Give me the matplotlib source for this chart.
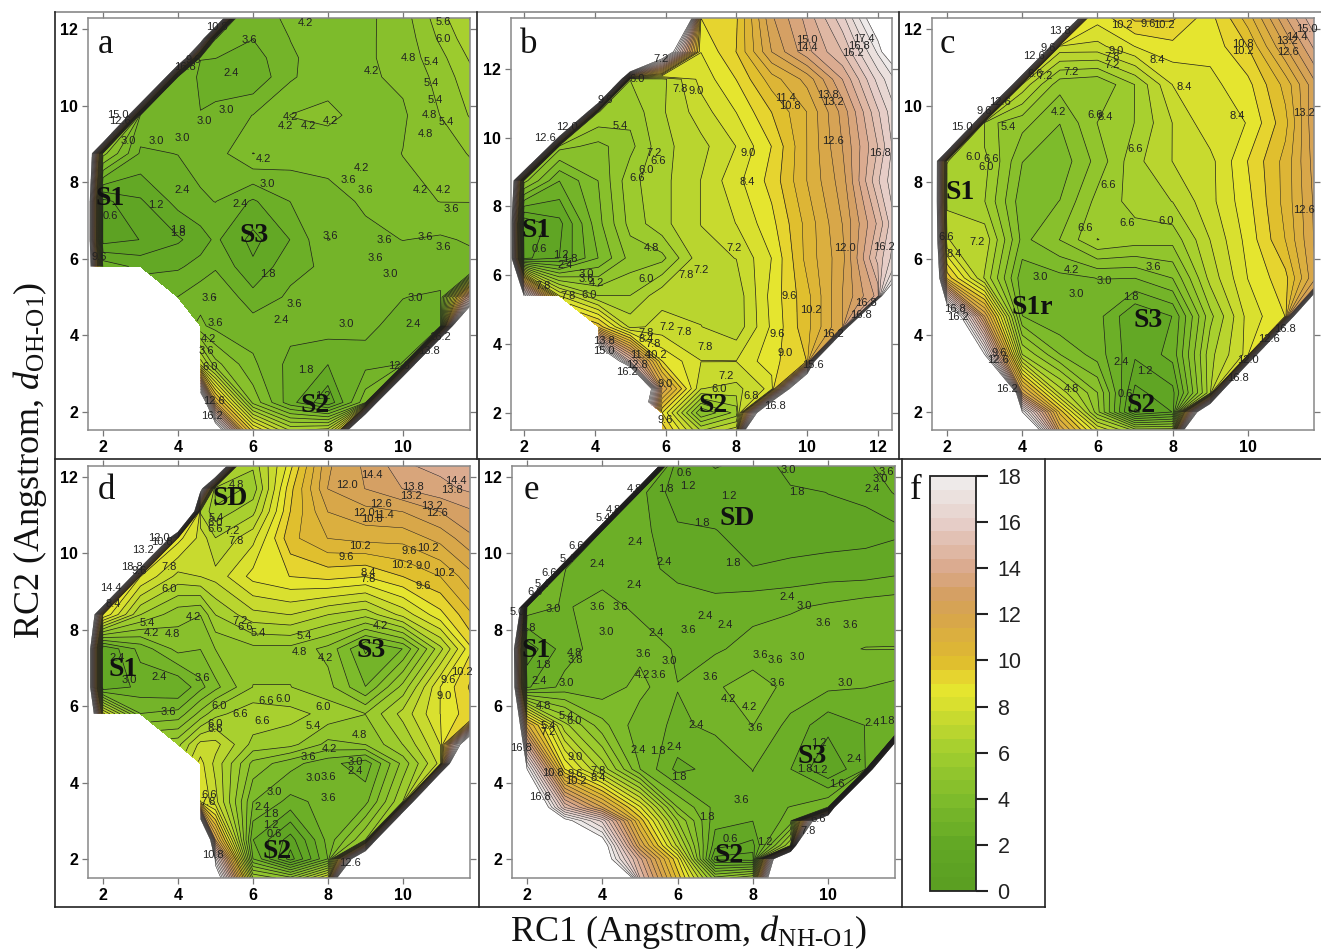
import numpy as np
import matplotlib
matplotlib.use('Agg')
import matplotlib.pyplot as plt
from matplotlib.colors import LinearSegmentedColormap
from matplotlib.lines import Line2D

plt.rcParams['font.family'] = 'Liberation Sans'
plt.rcParams['mathtext.fontset'] = 'custom'
plt.rcParams['mathtext.rm'] = 'Liberation Serif'
plt.rcParams['mathtext.it'] = 'Liberation Serif:italic'

N = np.nan
H = 50
W = 50
E = 90

# free energy, rows go from the top of the panel down
a_x = [1, 2, 3, 4, 4.6, 5, 6, 7, 8, 9, 10, 11, 12]
a_y = [12.75, 11.75, 11.25, 10.75, 9.75, 8.75, 7.5, 6.5, 5.8, 5, 4.25, 3.25, 2.25, 1.25]
a_z = [
    [H, H, H, H, H, H, 3.3, 3.9, 4.2, 4.0, 4.6, 6.0, 7.0],
    [H, H, H, H, 22, 3.6, 3.0, 3.6, 3.9, 4.1, 4.4, 5.5, 6.6],
    [H, H, H, 27, 3.0, 3.0, 2.7, 3.5, 3.9, 4.1, 4.4, 5.2, 6.3],
    [H, H, H, 3.4, 2.9, 2.6, 2.5, 3.5, 4.0, 4.1, 4.3, 5.0, 6.0],
    [H, H, 3.4, 3.1, 3.0, 3.2, 3.6, 4.2, 4.3, 4.0, 4.1, 4.8, 5.6],
    [H, 5.0, 2.9, 3.0, 3.2, 3.3, 4.2, 3.9, 3.9, 3.9, 4.2, 4.3, 5.0],
    [W, 1.0, 1.7, 2.6, 2.9, 3.0, 2.3, 3.0, 3.3, 3.7, 4.0, 4.2, 4.2],
    [W, 0.9, 1.2, 1.7, 2.1, 2.5, 1.6, 2.4, 3.6, 3.4, 3.6, 3.5, 3.7],
    [W, 2.8, 2.2, 2.3, 2.6, 2.9, 1.9, 2.8, 3.1, 3.4, 3.2, 3.3, 3.4],
    [N, N, N, 3.0, 3.4, 3.6, 2.6, 3.1, 3.3, 3.2, 3.0, 2.9, 18],
    [N, N, N, N, 3.7, 3.4, 3.3, 3.2, 3.3, 3.1, 2.8, 2.7, H],
    [N, N, N, N, 7.0, 5.0, 3.7, 2.8, 2.4, 2.8, 3.0, H, H],
    [N, N, N, N, 22, 11, 4.6, 2.6, 1.3, 4.0, H, H, H],
    [N, N, N, N, H, 24, 11, 8.0, 9.0, H, H, H, H],
]
a_names = [(2.18, 7.57, 'S1'), (6.02, 6.6, 'S3'), (7.65, 2.16, 'S2')]
a_labels = [
    (5.91, 11.72, '3.6'), (7.4, 12.16, '4.2'), (11.07, 12.18, '5.6'), (11.07, 11.75, '6.0'),
    (10.15, 11.25, '4.8'), (10.76, 11.14, '5.4'), (10.76, 10.6, '5.4'), (10.87, 10.15, '5.4'),
    (9.15, 10.9, '4.2'), (5.42, 10.85, '2.4'), (5.3, 9.9, '3.0'), (4.7, 9.6, '3.0'),
    (3.42, 9.07, '3.0'), (4.12, 9.16, '3.0'), (2.67, 9.07, '3.0'), (7.0, 9.7, '4.2'),
    (6.86, 9.48, '4.2'), (7.47, 9.46, '4.2'), (8.07, 9.6, '4.2'), (10.7, 9.75, '4.8'),
    (11.15, 9.57, '5.4'), (10.6, 9.25, '4.8'), (6.27, 8.6, '4.2'), (8.9, 8.38, '4.2'),
    (8.55, 8.05, '3.6'), (9.0, 7.8, '3.6'), (6.38, 7.96, '3.0'), (4.1, 7.8, '2.4'),
    (10.47, 7.8, '4.2'), (11.07, 7.8, '4.2'), (11.3, 7.3, '3.6'), (3.4, 7.4, '1.2'),
    (5.66, 7.42, '2.4'), (2.2, 7.13, '0.6'), (4.0, 6.76, '1.8'), (4.0, 6.68, '1.8'),
    (8.07, 6.6, '3.6'), (9.5, 6.5, '3.6'), (10.6, 6.58, '3.6'), (11.07, 6.3, '3.6'),
    (9.26, 6.03, '3.6'), (9.66, 5.6, '3.0'), (6.4, 5.6, '1.8'), (4.84, 4.97, '3.6'),
    (10.34, 4.97, '3.0'), (7.1, 4.83, '3.6'), (6.76, 4.4, '2.4'), (8.5, 4.3, '3.0'),
    (10.27, 4.3, '2.4'), (5.0, 4.32, '3.6'), (4.8, 3.9, '4.2'), (4.75, 3.6, '3.6'),
    (4.85, 3.17, '6.0'), (7.42, 3.1, '1.8'), (7.87, 2.43, '1.2'), (2.4, 9.75, '15.0'),
    (2.45, 9.6, '12.6'), (4.2, 11.0, '16.8'), (4.4, 11.2, '9.6'), (5.05, 12.05, '10.8'),
    (1.9, 6.05, '9.6'), (10.7, 3.6, '13.8'), (11.0, 3.95, '16.2'), (9.9, 3.2, '12.6'),
    (4.95, 2.3, '12.6'), (4.9, 1.9, '16.2'),
]

b_x = [1, 2, 3, 4.1, 5, 5.9, 7, 8, 9, 10, 11, 12, 13]
b_y = [13.5, 12.5, 11.7, 10.75, 9.75, 8.75, 7.5, 6.5, 5.4, 4.5, 3.5, 2.7, 2, 1.5]
b_z = [
    [H, H, H, H, H, H, 9.0, 9.5, 12.5, 14, 16, 19, 24],
    [H, H, H, H, H, 22, 8.4, 9.6, 12, 13.6, 15, 17.5, 22],
    [H, H, H, H, 6.0, 6.4, 8.0, 9.0, 10.5, 11.6, 13.8, 16.4, 18.5],
    [H, H, H, 6.0, 5.6, 6.5, 7.5, 8.4, 9.6, 10.8, 12.8, 15.5, 18],
    [H, H, 5.0, 4.6, 5.2, 6.4, 7.0, 7.8, 9.0, 10.8, 12.6, 15, 18],
    [H, 5.0, 3.0, 4.2, 5.8, 6.4, 7.2, 8.2, 9.2, 10.8, 12.3, 15.5, 18],
    [W, 0.6, 1.6, 4.0, 5.6, 6.4, 7.2, 7.8, 8.8, 10.4, 12.0, 14.5, 18],
    [W, 1.0, 1.8, 3.6, 5.0, 5.2, 7.0, 7.2, 8.4, 10.4, 11.8, 15.2, 18],
    [W, 18, 7.8, 6.0, 6.0, 7.0, 7.0, 6.8, 8.6, 10.0, 12, 14, H],
    [N, N, N, 10, 7.0, 7.4, 7.2, 6.8, 8.5, 10.0, 12, H, H],
    [N, N, N, 24, 15, 9.0, 7.8, 7.8, 8.8, 9.6, H, H, H],
    [N, N, N, 30, 30, 12, 7.2, 7.0, 8.0, 28, H, H, H],
    [N, N, N, N, N, 9.0, 4.2, 5.6, 27, H, H, H, H],
    [N, N, N, N, N, 10, 6.5, 7.5, H, H, H, H, H],
]
b_names = [(2.33, 7.3, 'S1'), (7.34, 2.22, 'S2')]
b_labels = [
    (10.0, 12.83, '15.0'), (10.0, 12.6, '14.4'), (11.6, 12.87, '17.4'), (11.48, 12.68, '16.8'),
    (11.3, 12.47, '16.2'), (5.88, 12.3, '7.2'), (5.2, 11.7, '6.0'), (6.4, 11.43, '7.8'),
    (6.87, 11.37, '9.0'), (9.4, 11.16, '11.4'), (9.52, 10.93, '10.8'), (10.6, 11.25, '13.8'),
    (10.73, 11.03, '13.2'), (4.28, 11.1, '9.6'), (4.72, 10.33, '5.4'), (10.73, 9.9, '12.6'),
    (5.67, 9.56, '7.2'), (5.8, 9.33, '6.6'), (8.33, 9.56, '9.0'), (12.05, 9.56, '16.8'),
    (5.44, 9.05, '6.0'), (5.2, 8.83, '6.6'), (8.3, 8.7, '8.4'), (2.42, 6.75, '0.6'),
    (5.6, 6.8, '4.8'), (7.93, 6.78, '7.2'), (11.08, 6.8, '12.0'), (12.17, 6.83, '16.2'),
    (3.04, 6.6, '1.2'), (3.29, 6.48, '1.8'), (3.15, 6.3, '2.4'), (7.0, 6.15, '7.2'),
    (3.76, 6.04, '3.0'), (6.58, 6.0, '7.8'), (3.76, 5.88, '3.6'), (5.44, 5.9, '6.0'),
    (4.04, 5.76, '4.2'), (2.54, 5.7, '7.8'), (3.85, 5.44, '6.0'), (3.24, 5.4, '7.8'),
    (9.5, 5.4, '9.6'), (10.1, 5.0, '10.2'), (11.67, 5.2, '16.8'), (11.53, 4.83, '16.8'),
    (6.04, 4.5, '7.2'), (6.52, 4.35, '7.8'), (5.44, 4.33, '7.8'), (5.44, 4.15, '8.4'),
    (9.15, 4.28, '9.6'), (10.73, 4.28, '16.2'), (4.25, 4.08, '13.8'), (5.65, 4.0, '7.8'),
    (7.12, 3.9, '7.8'), (4.25, 3.8, '15.0'), (5.74, 3.68, '10.2'), (5.3, 3.68, '11.4'),
    (9.39, 3.74, '9.0'), (5.2, 3.4, '12.8'), (4.9, 3.2, '16.2'), (10.16, 3.38, '15.6'),
    (7.72, 3.07, '7.2'), (6.0, 2.85, '9.0'), (7.5, 2.7, '6.0'), (8.42, 2.48, '6.8'),
    (6.0, 1.8, '9.6'), (9.08, 2.2, '16.8'), (2.6, 10.0, '12.6'), (3.2, 10.3, '12.0'),
]

c_x = [1, 2, 3, 4, 5, 6, 7, 8, 9, 10, 11, 12]
c_y = [12.55, 11.55, 10.55, 9.55, 8.55, 7.5, 6.5, 5.5, 4.5, 3.5, 2.5, 2, 1.5]
c_z = [
    [H, H, H, H, H, 9.0, 10.2, 10.0, 8.9, 10.8, 13.5, 15.8],
    [H, H, H, H, 7.6, 7.6, 8.4, 8.8, 8.6, 9.6, 12.0, 14.5],
    [H, H, H, 7.0, 5.0, 4.8, 6.0, 7.8, 8.2, 8.8, 10.4, 13.0],
    [H, H, 5.6, 5.0, 4.2, 5.4, 6.0, 7.2, 8.2, 8.4, 10.0, 13.2],
    [H, 6.6, 6.2, 4.2, 3.8, 5.0, 6.4, 7.2, 7.6, 9.0, 10.4, 12.8],
    [W, 6.4, 6.0, 3.8, 4.2, 5.6, 6.2, 6.6, 7.6, 8.8, 10.4, 12.6],
    [W, 7.2, 7.0, 4.0, 4.8, 6.0, 5.7, 5.6, 7.2, 8.6, 10.2, 12.6],
    [H, 10, 6.5, 3.2, 3.4, 3.6, 3.6, 4.2, 6.8, 8.4, 9.4, 12.6],
    [H, 21.5, 12, 3.6, 3.0, 3.2, 1.8, 2.4, 5.8, 8.0, 9.0, H],
    [H, H, 18, 6.0, 4.2, 3.3, 1.9, 2.6, 6.4, 8.0, H, H],
    [H, H, H, 12, 7.0, 4.8, 1.0, 1.6, 6.4, H, H, H],
    [H, H, H, 18, 10, 5.0, 0.5, 1.2, 27, H, H, H],
    [H, H, H, 24, 12, 8.0, 6.0, 6.0, H, H, H, H],
]
c_names = [(2.36, 7.72, 'S1'), (4.26, 4.72, 'S1r'), (7.36, 4.39, 'S3'), (7.15, 2.16, 'S2')]
c_labels = [
    (6.5, 11.44, '9.0'), (9.87, 11.6, '10.8'), (9.87, 11.42, '10.2'), (6.4, 11.27, '7.8'),
    (7.59, 11.2, '8.4'), (6.4, 11.07, '7.2'), (4.35, 10.83, '6.6'), (4.6, 10.77, '7.2'),
    (5.3, 10.88, '7.2'), (8.3, 10.5, '8.4'), (6.64, 12.1, '10.2'), (7.36, 12.14, '9.6'),
    (7.76, 12.1, '10.2'), (11.04, 11.7, '13.2'), (11.08, 11.4, '12.6'), (11.57, 12.0, '15.0'),
    (11.3, 11.8, '14.4'), (11.5, 9.8, '13.2'), (11.5, 7.27, '12.6'), (4.97, 9.83, '4.2'),
    (5.93, 9.76, '6.6'), (6.2, 9.7, '8.4'), (9.73, 9.73, '8.4'), (3.64, 9.44, '5.4'),
    (2.4, 9.44, '15.0'), (7.0, 8.86, '6.6'), (2.68, 8.66, '6.0'), (3.17, 8.6, '6.6'),
    (3.05, 8.4, '6.0'), (6.28, 7.92, '6.6'), (6.8, 6.94, '6.6'), (7.82, 7.0, '6.0'),
    (5.66, 6.8, '6.6'), (1.98, 6.57, '6.6'), (2.8, 6.44, '7.2'), (2.2, 6.12, '8.4'),
    (5.3, 5.72, '4.2'), (7.48, 5.8, '3.6'), (4.48, 5.52, '3.0'), (6.17, 5.41, '3.0'),
    (5.44, 5.07, '3.0'), (6.88, 5.0, '1.8'), (2.2, 4.7, '16.8'), (2.3, 4.48, '16.2'),
    (11.0, 4.18, '16.8'), (6.63, 3.3, '2.4'), (7.26, 3.06, '1.2'), (5.3, 2.6, '4.8'),
    (6.74, 2.48, '0.6'), (3.6, 2.6, '16.2'), (3.4, 10.1, '12.6'), (3.0, 9.85, '9.6'),
    (4.3, 11.3, '12.6'), (4.7, 11.5, '9.6'), (5.0, 11.95, '13.8'), (3.35, 3.35, '12.6'),
    (3.4, 3.55, '9.6'), (10.55, 3.9, '12.6'), (10.0, 3.35, '12.0'), (9.75, 2.9, '16.8'),
]

d_x = [1, 2, 3, 4, 4.6, 5, 6, 7, 8, 9, 10, 11, 12]
d_y = [12.7, 11.7, 11.1, 10.4, 9.4, 8.4, 7.5, 6.5, 5.8, 5, 4.5, 3.5, 2.5, 2, 1.5]
d_z = [
    [H, H, H, H, H, H, 6.4, 8.4, 11.8, 12.8, 14.0, 14.2, 14.4],
    [H, H, H, H, 20, 4.8, 5.6, 9.4, 12.0, 12.6, 13.2, 13.6, 14],
    [H, H, H, H, 6.5, 5.6, 6.4, 9.6, 11.4, 11.8, 12.0, 12.6, 13.2],
    [H, H, H, 8.6, 7.6, 6.6, 7.6, 10.0, 10.8, 11.0, 11.0, 11.6, 12.6],
    [H, H, 8.4, 7.0, 7.2, 7.4, 8.6, 9.0, 9.2, 9.0, 9.6, 10.2, 11.4],
    [H, 9.0, 6.0, 5.0, 4.8, 6.0, 7.0, 7.2, 6.6, 6.2, 7.4, 8.8, 10.4],
    [W, 1.8, 3.2, 4.4, 4.2, 4.8, 5.2, 5.2, 4.6, 2.9, 3.6, 6.4, 9.4],
    [W, 1.8, 2.6, 2.4, 3.4, 4.0, 5.4, 5.4, 5.0, 3.6, 5.6, 8.4, 10],
    [W, 8.0, 3.6, 3.8, 5.0, 5.8, 6.4, 6.2, 5.8, 5.4, 6.8, 8.4, 9.6],
    [N, N, N, 5.8, 7.4, 7.4, 5.8, 5.6, 4.6, 4.8, 6.0, 7.8, 27],
    [N, N, N, N, 8.0, 7.0, 4.6, 3.8, 3.2, 2.6, 5.0, 7.4, H],
    [N, N, N, N, 8.4, 7.4, 3.6, 2.8, 3.2, 3.4, 6.0, H, H],
    [N, N, N, N, 30, 12, 2.4, 0.9, 3.2, 5.4, H, H, H],
    [N, N, N, N, H, 17, 3.0, 0.3, 3.0, 27, H, H, H],
    [N, N, N, N, H, 20, 6.0, 5.0, 8.0, H, H, H, H],
]
d_names = [(5.4, 11.44, 'SD'), (2.55, 6.95, 'S1'), (9.14, 7.45, 'S3'), (6.64, 2.19, 'S2')]
d_labels = [
    (5.56, 11.8, '4.8'), (8.5, 11.8, '12.0'), (9.18, 12.05, '14.4'), (10.27, 11.75, '13.8'),
    (10.22, 11.5, '13.2'), (11.4, 11.9, '14.4'), (11.3, 11.66, '13.8'), (9.42, 11.3, '12.6'),
    (10.77, 11.25, '13.2'), (10.9, 11.05, '12.6'), (8.96, 11.07, '12.0'), (9.47, 11.0, '11.4'),
    (9.18, 10.9, '10.8'), (5.02, 10.92, '5.4'), (5.0, 10.8, '6.0'), (5.0, 10.64, '6.6'),
    (5.45, 10.6, '7.2'), (5.54, 10.33, '7.8'), (3.5, 10.4, '12.0'), (3.56, 10.3, '10.8'),
    (8.84, 10.2, '10.2'), (10.18, 10.06, '9.6'), (10.67, 10.13, '10.2'), (8.5, 9.9, '9.6'),
    (3.07, 10.1, '13.2'), (2.76, 9.65, '18.8'), (2.96, 9.55, '9.6'), (3.75, 9.65, '7.8'),
    (9.98, 9.7, '10.2'), (10.55, 9.67, '9.0'), (11.1, 9.5, '10.2'), (9.07, 9.48, '8.4'),
    (9.07, 9.32, '7.8'), (2.2, 9.1, '14.4'), (10.53, 9.15, '9.6'), (3.75, 9.08, '6.0'),
    (2.27, 8.67, '8.4'), (4.42, 8.33, '4.2'), (3.17, 8.17, '5.4'), (5.66, 8.23, '7.2'),
    (5.78, 8.08, '6.6'), (9.4, 8.1, '4.2'), (3.29, 7.92, '4.2'), (3.85, 7.9, '4.8'),
    (6.13, 7.92, '5.4'), (7.38, 7.85, '5.4'), (7.24, 7.43, '4.8'), (7.94, 7.25, '4.2'),
    (2.38, 7.25, '2.4'), (2.71, 6.68, '3.0'), (3.5, 6.76, '2.4'), (4.65, 6.75, '3.6'),
    (11.2, 6.68, '9.6'), (11.57, 6.9, '10.2'), (11.1, 6.27, '9.0'), (6.36, 6.14, '6.6'),
    (6.8, 6.19, '6.0'), (5.1, 6.0, '6.0'), (7.87, 5.99, '6.0'), (5.67, 5.79, '6.6'),
    (3.75, 5.86, '3.6'), (6.24, 5.62, '6.6'), (7.6, 5.49, '5.4'), (5.0, 5.53, '6.0'),
    (5.0, 5.4, '6.6'), (8.84, 5.25, '4.8'), (8.04, 4.87, '4.2'), (7.48, 4.66, '3.6'),
    (8.73, 4.55, '3.0'), (8.73, 4.29, '2.4'), (7.6, 4.11, '3.0'), (8.0, 4.15, '3.6'),
    (6.58, 3.75, '3.0'), (8.02, 3.6, '3.6'), (4.84, 3.68, '6.6'), (4.8, 3.5, '7.8'),
    (6.24, 3.37, '2.4'), (6.47, 3.17, '1.8'), (6.47, 2.9, '1.2'), (6.58, 2.65, '0.6'),
    (4.93, 2.1, '10.8'), (8.58, 1.89, '12.6'),
]

e_x = [1, 2, 3, 4, 5, 6, 7, 8, 9, 10, 11, 12]
e_y = [12.6, 11.6, 10.6, 9.6, 8.6, 7.5, 6.5, 5.5, 4.35, 3.35, 3, 2.35, 2, 1.5]
e_z = [
    [E, E, E, E, E, 1.4, 1.0, 1.2, 2.6, 2.2, 2.4, 3.6],
    [E, E, E, E, 2.6, 1.4, 1.5, 1.2, 1.6, 1.8, 1.9, 2.6],
    [E, E, E, 2.8, 2.6, 1.9, 1.8, 1.6, 1.5, 1.5, 1.6, 1.7],
    [E, E, 3.0, 2.6, 2.6, 2.2, 2.0, 1.8, 1.9, 2.0, 2.0, 2.2],
    [E, 3.4, 2.9, 3.3, 2.8, 2.7, 2.6, 2.8, 2.9, 3.1, 3.3, 3.4],
    [W, 1.4, 2.7, 3.3, 3.4, 2.9, 2.9, 3.2, 3.4, 3.5, 3.6, 3.6],
    [W, 2.3, 3.2, 3.2, 3.8, 3.0, 3.5, 3.9, 3.4, 3.1, 3.0, 2.8],
    [W, 11, 6.2, 4.4, 3.2, 2.9, 3.1, 3.6, 2.8, 2.0, 2.4, 2.8],
    [W, 18, 9.0, 6.4, 3.6, 2.2, 2.6, 3.0, 2.4, 1.2, 2.4, E],
    [H, 22, 15, 12, 8.5, 4.2, 2.8, 2.8, 3.0, 3.6, E, E],
    [H, H, 18.5, 16, 10, 5.4, 2.6, 2.4, 3.2, 28, E, E],
    [H, H, H, 19, 12, 7.0, 2.0, 1.6, 6.0, E, E, E],
    [H, H, H, 19.3, 14, 9.0, 1.0, 0.8, 32, E, E, E],
    [H, H, H, 30, 15, 10, 5.0, 6.0, 36, E, E, E],
]
e_names = [(7.58, 10.92, 'SD'), (2.23, 7.47, 'S1'), (9.58, 4.68, 'S3'), (7.37, 2.08, 'S2')]
e_labels = [
    (6.17, 12.1, '0.6'), (8.94, 12.18, '3.0'), (11.56, 12.14, '3.6'), (11.38, 11.95, '3.0'),
    (5.69, 11.69, '1.8'), (6.28, 11.77, '1.2'), (11.16, 11.7, '2.4'), (7.36, 11.5, '1.2'),
    (9.16, 11.6, '1.8'), (4.86, 11.7, '4.8'), (4.29, 11.14, '4.8'), (4.02, 10.94, '5.4'),
    (6.64, 10.79, '1.8'), (4.88, 10.29, '2.4'), (3.3, 10.2, '6.6'), (3.07, 9.85, '5.4'),
    (3.87, 9.72, '2.4'), (5.64, 9.78, '2.4'), (7.48, 9.74, '1.8'), (2.6, 9.48, '6.6'),
    (2.41, 9.2, '5.4'), (2.22, 9.0, '6.0'), (4.84, 9.17, '2.4'), (8.91, 8.87, '2.4'),
    (9.38, 8.63, '3.0'), (2.69, 8.54, '3.0'), (3.87, 8.59, '3.6'), (4.48, 8.59, '3.6'),
    (1.73, 8.47, '5.0'), (6.73, 8.36, '2.4'), (7.26, 8.13, '2.4'), (9.87, 8.17, '3.6'),
    (10.6, 8.13, '3.6'), (6.28, 8.0, '3.6'), (2.03, 8.04, '1.8'), (4.11, 7.95, '3.0'),
    (5.44, 7.92, '2.4'), (3.27, 7.38, '4.8'), (5.09, 7.36, '3.6'), (8.2, 7.34, '3.6'),
    (8.59, 7.2, '3.6'), (9.19, 7.3, '3.0'), (3.27, 7.2, '3.8'), (5.79, 7.19, '3.0'),
    (2.43, 7.08, '1.8'), (5.48, 6.82, '3.6'), (5.07, 6.82, '4.2'), (6.88, 6.77, '3.6'),
    (2.32, 6.67, '2.4'), (3.05, 6.62, '3.0'), (8.66, 6.6, '3.6'), (10.45, 6.62, '3.0'),
    (7.35, 6.18, '4.2'), (2.44, 6.01, '4.8'), (7.9, 5.99, '4.2'), (3.05, 5.74, '5.4'),
    (3.25, 5.61, '6.0'), (6.5, 5.51, '2.4'), (8.07, 5.42, '3.6'), (11.16, 5.55, '2.4'),
    (11.56, 5.6, '1.8'), (2.56, 5.49, '5.4'), (2.56, 5.33, '7.2'), (1.83, 4.9, '16.8'),
    (9.76, 5.03, '1.2'), (4.95, 4.85, '2.4'), (5.91, 4.92, '2.4'), (5.47, 4.83, '1.8'),
    (3.27, 4.68, '9.0'), (10.7, 4.62, '2.4'), (9.38, 4.36, '1.8'), (9.78, 4.33, '1.2'),
    (2.69, 4.24, '10.8'), (3.27, 4.22, '9.6'), (3.89, 4.29, '7.8'), (3.89, 4.13, '8.4'),
    (3.29, 4.05, '10.2'), (6.04, 4.15, '1.8'), (10.23, 3.95, '1.6'), (2.34, 3.63, '16.8'),
    (7.7, 3.54, '3.6'), (9.74, 3.04, '6.6'), (6.77, 3.11, '1.8'), (9.47, 2.72, '7.8'),
    (7.39, 2.52, '0.6'), (8.32, 2.43, '1.2'),
]

cbar_ticks = [0, 2, 4, 6, 8, 10, 12, 14, 16, 18]
levels = np.arange(0, 18.01, 0.6)
line_widths = [0.5 if lev < 10 else 0.35 for lev in levels]
cmap = LinearSegmentedColormap.from_list('fe', [
    (0 / 18, '#5a9e22'), (2 / 18, '#62a825'), (4 / 18, '#7fbc2b'), (6 / 18, '#a1cd2f'),
    (8 / 18, '#d6df2f'), (8.8 / 18, '#e7e62f'), (9.4 / 18, '#e6d12f'), (10 / 18, '#dfbb2e'),
    (12 / 18, '#d7a44e'), (13 / 18, '#d5a066'), (14 / 18, '#daa98c'), (16 / 18, '#e6cec8'),
    (18 / 18, '#efefef'),
])

W_PX, H_PX = 1321, 952
fig = plt.figure(figsize=(W_PX / 100, H_PX / 100), dpi=100)


def box(left, top, right, bottom):
    return [left / W_PX, 1 - bottom / H_PX, (right - left) / W_PX, (bottom - top) / H_PX]


def panel(pos, xlim, ylim, xs, ys, zs, names, labels, letter, lx, ly, xticks, yticks):
    ax = fig.add_axes(box(*pos))
    # small nudge so nodes sitting exactly on a level don't draw flat lines
    z = np.array(zs, dtype=float) + 0.013
    cf = ax.contourf(xs, ys, z, levels=levels, cmap=cmap)
    ax.contour(xs, ys, z, levels=levels, colors='#1c1c1c', linewidths=line_widths)
    for x, y, s in labels:
        ax.text(x, y, s, fontsize=8, color='#222222', ha='center', va='center')
    for x, y, s in names:
        ax.text(x, y, s, fontsize=20, family='Liberation Serif', weight='bold',
                color='#111111', ha='center', va='center')
    ax.text(lx, ly, letter, transform=ax.transAxes, fontsize=25, family='Liberation Serif', color='#111111')
    ax.set_xlim(xlim)
    ax.set_ylim(ylim)
    ax.set_xticks(xticks)
    ax.set_yticks(yticks)
    ax.tick_params(top=True, right=True, length=4, width=0.9, color='#777777', pad=3, labelsize=11.5)
    for t in ax.get_xticklabels() + ax.get_yticklabels():
        t.set_fontweight('bold')
    for s in ax.spines.values():
        s.set_color('#888888')
        s.set_linewidth(1.1)
    return cf


ticks10 = [2, 4, 6, 8, 10]
ticks12 = [2, 4, 6, 8, 10, 12]
cf = panel((88, 18, 470, 430), (1.6, 11.79), (1.53, 12.29), a_x, a_y, a_z, a_names, a_labels,
           'a', 0.026, 0.915, ticks10, ticks12)
panel((511, 18, 892, 430), (1.63, 12.4), (1.5, 13.48), b_x, b_y, b_z, b_names, b_labels,
      'b', 0.024, 0.915, ticks12, ticks12)
panel((932, 18, 1314, 430), (1.6, 11.76), (1.53, 12.29), c_x, c_y, c_z, c_names, c_labels,
      'c', 0.02, 0.915, ticks10, ticks12)
panel((88, 466, 470, 878), (1.6, 11.79), (1.5, 12.29), d_x, d_y, d_z, d_names, d_labels,
      'd', 0.026, 0.92, ticks10, ticks12)
panel((512, 466, 895, 878), (1.6, 11.78), (1.5, 12.29), e_x, e_y, e_z, e_names, e_labels,
      'e', 0.03, 0.92, ticks10, ticks12)

cax = fig.add_axes(box(930, 476, 976, 891))
cb = fig.colorbar(cf, cax=cax, ticks=cbar_ticks)
cb.outline.set_edgecolor('#222222')
cb.outline.set_linewidth(1.3)
cb.ax.tick_params(length=8.5, width=1.5, color='#222222', pad=7, labelsize=15.5, labelcolor='#222222')
cb.ax.minorticks_off()
fig.text(910 / W_PX, 1 - 499 / H_PX, 'f', fontsize=25, family='Liberation Serif', color='#111111')


def frame(x0, y0, x1, y1, color='#222222'):
    fig.add_artist(Line2D([x0 / W_PX, x1 / W_PX], [1 - y0 / H_PX, 1 - y1 / H_PX], color=color, linewidth=1.2))


frame(55, 12, 1321, 12, '#888888')
frame(55, 12, 55, 907)
frame(55, 459, 1321, 459)
frame(55, 907, 1045, 907)
frame(477, 12, 477, 459)
frame(899, 12, 899, 459)
frame(479, 459, 479, 907)
frame(902, 459, 902, 907)
frame(1045, 459, 1045, 907)

fig.text(689 / W_PX, 1 - 932 / H_PX, r'RC1 (Angstrom, $d_{\text{NH-O1}}$)', fontsize=26,
         family='Liberation Serif', ha='center', va='center', color='#111111')
fig.text(30 / W_PX, 1 - 460 / H_PX, r'RC2 (Angstrom, $d_{\text{OH-O1}}$)', fontsize=26, rotation=90,
         family='Liberation Serif', ha='center', va='center', color='#111111')

fig.savefig('out.png', dpi=100)
